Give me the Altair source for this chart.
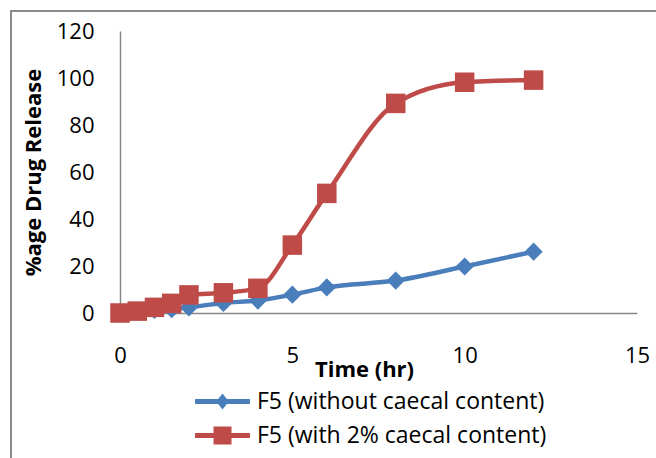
import altair as alt
import pandas as pd

time_hr = [0, 0.5, 1, 1.5, 2, 3, 4, 5, 6, 8, 10, 12]
without_caecal = [0, 0.5, 1.3, 1.6, 2.4, 4.3, 5.3, 7.8, 10.9, 13.8, 19.8, 26.1]
with_caecal = [0, 0.8, 2.4, 4.1, 7.7, 8.6, 10.5, 28.9, 50.9, 89.2, 98.2, 99.1]
series_names = ["F5 (without caecal content)", "F5 (with 2% caecal content)"]
series_colors = ["#4A7EBB", "#BE4B48"]
x_ticks = [0, 5, 10, 15]
y_ticks = [0, 20, 40, 60, 80, 100, 120]

rows = []
for t, a, b in zip(time_hr, without_caecal, with_caecal):
    rows.append({"time": t, "release": a, "series": series_names[0]})
    rows.append({"time": t, "release": b, "series": series_names[1]})
df = pd.DataFrame(rows)

FONT = "Open Sans"
FS = 22

x_enc = alt.X("time:Q", scale=alt.Scale(domain=[0, 15], nice=False),
              axis=alt.Axis(values=x_ticks, ticks=False, grid=False, domainColor="#868686",
                            domainWidth=1.5, labelFontSize=FS, labelColor="black", labelFont=FONT,
                            labelPadding=32, labelFlush=False,
                            title="Time (hr)", titleFont=FONT, titleFontSize=FS, titleFontWeight="bold",
                            titleColor="black", titleX=244, titleY=56, titleAlign="center",
                            titleBaseline="middle"))
y_enc = alt.Y("release:Q", scale=alt.Scale(domain=[0, 120], nice=False),
              axis=alt.Axis(values=y_ticks, ticks=False, grid=False, domainColor="#868686",
                            domainWidth=1.5, labelFontSize=FS, labelColor="black", labelFont=FONT,
                            labelPadding=26,
                            title="%age Drug Release", titleFont=FONT, titleFontSize=FS,
                            titleFontWeight="bold", titleColor="black", titleX=-87, titleY=141,
                            titleAngle=-90, titleAlign="center", titleBaseline="middle"))

base = alt.Chart(df)
layers = []
shapes = ["diamond", "square"]
sizes = [330, 380]
for name, col, shp, sz in zip(series_names, series_colors, shapes, sizes):
    sub = base.transform_filter(alt.datum.series == name)
    layers.append(sub.mark_line(color=col, strokeWidth=4.5, interpolate="monotone").encode(x=x_enc, y=y_enc))
for name, col, shp, sz in zip(series_names, series_colors, shapes, sizes):
    sub = base.transform_filter(alt.datum.series == name)
    layers.append(sub.mark_point(color=col, shape=shp, size=sz, filled=True, opacity=1,
                                 strokeWidth=0).encode(x=x_enc, y=y_enc))

path_diamond = "M-3.05,-0.28H3.05V0.28H-3.05Z M0,-0.9L0.7,0L0,0.9L-0.7,0Z"
path_square = "M-3.05,-0.28H3.05V0.28H-3.05Z M-1,-1H1V1H-1Z"

leg = dict(title=None, orient="none", legendX=73, legendY=359,
           symbolSize=324, symbolOffset=18, labelOffset=23,
           labelFontSize=23, labelFont=FONT, labelColor="black",
           rowPadding=10, padding=0, symbolStrokeWidth=0, labelLimit=500)

legend_layer = base.transform_filter("false").mark_point(filled=True, opacity=1, strokeWidth=0).encode(
    x=x_enc, y=y_enc,
    color=alt.Color("series:N", scale=alt.Scale(domain=series_names, range=series_colors),
                    legend=alt.Legend(**leg)),
    shape=alt.Shape("series:N", scale=alt.Scale(domain=series_names, range=[path_diamond, path_square]),
                    legend=alt.Legend(**leg)),
)
layers.append(legend_layer)

border = alt.Chart(alt.Data(values=[{}])).mark_rect(filled=False, stroke="#8c8c8c", strokeWidth=2).encode(
    x=alt.value(-109), x2=alt.value(700), y=alt.value(-20), y2=alt.value(600))
layers.append(border)

chart = alt.layer(*layers).properties(
    width=517, height=282,
    autosize=alt.AutoSizeParams(type="none"),
    padding={"left": 120, "top": 31, "right": 19, "bottom": 145},
    background="white",
).configure_view(stroke=None)

chart.save("out.html", embed_options={"renderer": "svg", "actions": False})
